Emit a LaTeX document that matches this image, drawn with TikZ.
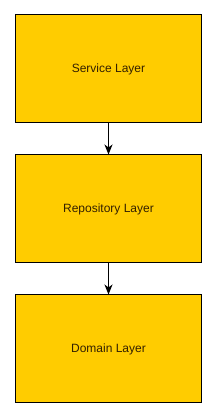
\documentclass[tikz,border=0pt]{standalone}
\usepackage{fontspec}
\setmainfont{Liberation Sans}
\usetikzlibrary{arrows.meta,positioning}
\usepackage{xcolor}
\definecolor{lyGold}{HTML}{FFCC00}
\definecolor{lyText}{RGB}{51,32,0}
\tikzset{
    layer/.style={
        draw=black,line width=1pt,fill=lyGold,
        minimum width=186pt,minimum height=108pt,
        align=center,text=lyText,font=\fontsize{12}{14}\selectfont
    },
    arrow/.style={
        -{Stealth[length=10pt,width=8pt,inset=3pt]},line width=1pt,draw=black
    }
}
\begin{document}
\begin{tikzpicture}[x=1pt,y=1pt]

\useasboundingbox (0,0) rectangle (216,418);

\node[layer] (service) at (108.5,349) {Service Layer};

\node[layer] (repository) at (108.5,209) {Repository Layer};

\node[layer] (domain) at (108.5,69) {Domain Layer};

\draw[arrow] (service) -- (repository);
\draw[arrow] (repository) -- (domain);

\end{tikzpicture}
\end{document}
